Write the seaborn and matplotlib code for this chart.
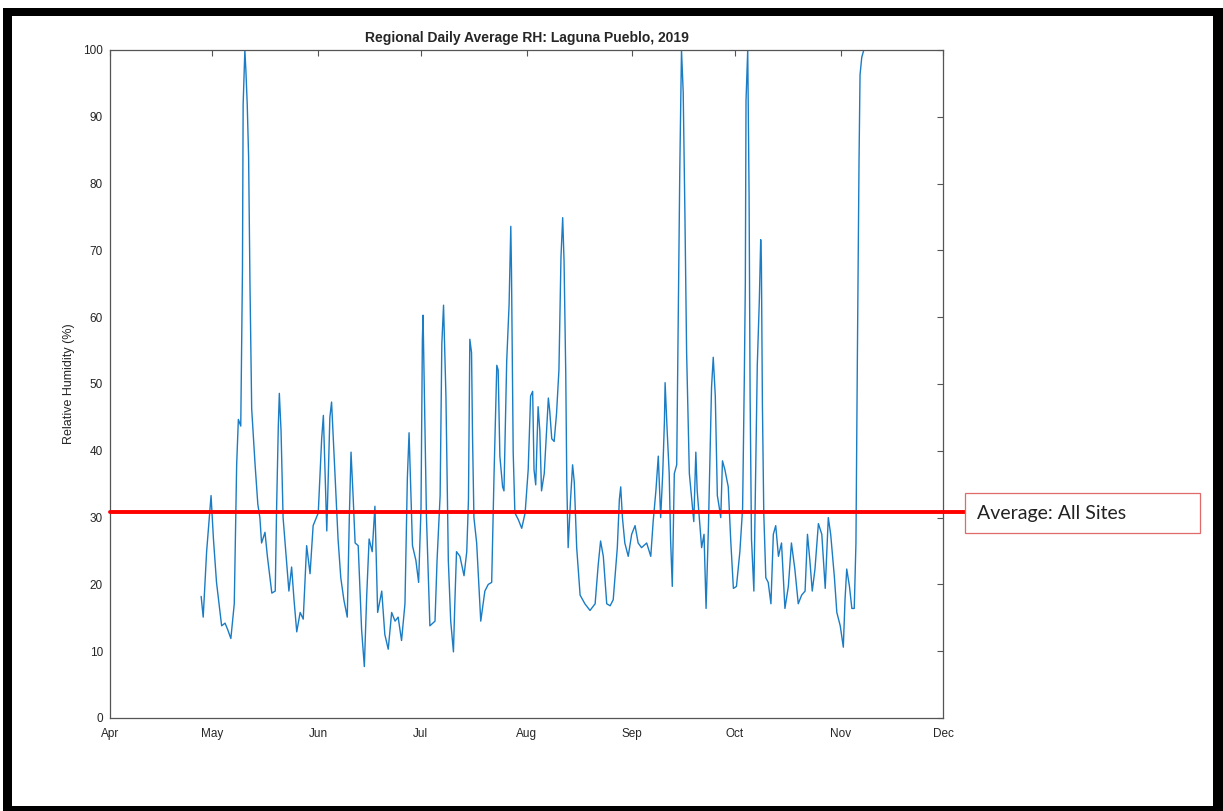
import numpy as np
import pandas as pd
import matplotlib
matplotlib.use("Agg")
import matplotlib.pyplot as plt
import matplotlib.dates as mdates
import matplotlib.transforms as mtransforms
from matplotlib.patches import Rectangle
import seaborn as sns

# ---------------- data ----------------
title_text = "Regional Daily Average RH: Laguna Pueblo, 2019"
y_label = "Relative Humidity (%)"
avg_label = "Average: All Sites"
avg_all_sites = 30.8
start_date = "2019-04-01"
month_ticks = ["2019-04-01", "2019-05-01", "2019-06-01", "2019-07-01",
               "2019-08-01", "2019-09-01", "2019-10-01", "2019-11-01", "2019-12-01"]
y_ticks = [0, 10, 20, 30, 40, 50, 60, 70, 80, 90, 100]

# days elapsed since 1 April 2019
days = [26.7, 27.3, 28.3, 29.6, 30.3, 31.2, 32.7, 33.7, 34.5, 35.4, 36.4, 37.1, 37.6, 38.3,
        38.8, 39.0, 39.5, 39.8, 40.2, 40.6, 41.0, 41.5, 42.5, 43.3, 43.9, 44.4, 45.4, 46.1,
        47.4, 48.4, 48.8, 49.3, 49.6, 50.1, 50.7, 51.7, 52.4, 53.2, 53.9, 54.7, 55.7, 56.6,
        57.6, 58.6, 59.5, 61.0, 62.0, 62.5, 63.5, 64.4, 64.9, 65.9, 66.8, 67.6, 68.5, 69.5,
        70.1, 70.6, 71.2, 71.8, 72.7, 73.7, 74.5, 75.2, 75.9, 76.8, 77.6, 78.4, 79.6, 80.5,
        81.5, 82.5, 83.5, 84.4, 85.4, 86.4, 87.1, 87.6, 88.0, 88.6, 89.6, 90.4, 91.1, 91.5,
        91.7, 92.1, 92.7, 93.7, 95.2, 95.8, 96.7, 97.2, 97.7, 98.4, 99.1, 99.8, 100.6, 101.0,
        101.5, 102.5, 103.7, 104.5, 105.0, 105.4, 105.9, 106.2, 106.6, 107.4, 108.6, 109.8,
        110.8, 111.8, 112.5, 113.3, 113.7, 114.2, 115.0, 115.4, 116.2, 116.9, 117.4, 117.6,
        118.1, 118.6, 119.6, 120.6, 121.6, 122.5, 123.2, 123.8, 124.2, 124.7, 125.4, 125.9,
        126.4, 127.2, 128.4, 128.8, 129.4, 130.1, 130.8, 131.5, 132.1, 132.6, 133.0, 133.5,
        133.8, 134.2, 134.9, 135.5, 136.0, 136.7, 137.7, 139.1, 140.6, 142.1, 143.0, 143.7,
        144.5, 145.5, 146.5, 147.4, 148.6, 149.2, 149.6, 150.1, 150.8, 151.8, 152.8, 153.8,
        154.7, 155.7, 157.2, 158.4, 159.1, 159.9, 160.6, 161.3, 161.9, 162.4, 162.6, 163.2,
        163.8, 164.2, 164.7, 165.3, 166.0, 166.4, 166.9, 167.4, 167.9, 168.4, 168.9, 169.7,
        170.4, 171.0, 171.6, 172.0, 172.6, 173.3, 174.0, 174.6, 175.3, 176.2, 176.7, 177.3,
        177.9, 178.5, 178.9, 179.4, 180.1, 181.1, 181.8, 182.6, 183.5, 184.5, 185.3, 185.8,
        186.1, 186.3, 186.8, 187.2, 187.5, 187.9, 188.6, 189.2, 189.6, 190.2, 190.6, 190.8,
        191.1, 191.5, 192.1, 192.8, 193.6, 194.3, 195.0, 195.8, 196.7, 197.7, 198.7, 199.6,
        200.6, 201.6, 202.6, 203.6, 204.3, 205.0, 205.7, 206.5, 207.5, 208.5, 209.5, 210.4,
        211.1, 212.2, 212.9, 213.9, 214.8, 215.3, 215.8, 216.6, 217.3, 218.0, 218.5, 218.9,
        219.4, 219.7, 220.2, 220.8]

rh = [18.2, 15.1, 24.9, 33.3, 26.8, 20.3, 13.8, 14.2, 13.2, 11.9, 17.1, 37.9, 44.7, 43.7,
      67.0, 91.8, 100.0, 97.0, 91.8, 84.0, 65.0, 46.3, 37.9, 32.0, 30.0, 26.2, 27.8, 24.2,
      18.7, 19.0, 31.4, 43.7, 48.6, 43.0, 30.0, 23.6, 19.0, 22.6, 17.7, 12.9, 15.8, 14.8,
      25.8, 21.6, 28.8, 30.7, 41.8, 45.3, 28.0, 45.0, 47.3, 36.6, 26.8, 21.0, 17.7, 15.1,
      30.0, 39.8, 33.3, 26.2, 25.8, 13.2, 7.7, 18.4, 26.8, 24.9, 31.7, 15.8, 19.0, 12.5,
      10.3, 15.8, 14.5, 15.1, 11.6, 17.1, 35.9, 42.7, 35.9, 25.8, 23.6, 20.3, 31.4, 56.7,
      60.3, 48.2, 30.0, 13.8, 14.5, 23.6, 33.3, 56.0, 61.8, 48.2, 23.6, 14.5, 9.9, 17.1,
      24.9, 24.2, 21.3, 24.9, 32.7, 56.7, 54.7, 41.8, 30.0, 26.2, 14.5, 19.0,
      20.0, 20.3, 36.6, 52.8, 52.1, 39.2, 34.6, 34.0, 53.4, 61.9, 73.6, 67.0,
      39.8, 30.7, 29.7, 28.4, 30.7, 37.2, 48.2, 48.9, 37.2, 34.9, 46.6, 43.0,
      34.0, 36.6, 47.9, 46.0, 41.8, 41.4, 45.6, 52.1, 69.0, 74.9, 68.4, 51.5,
      35.3, 25.5, 32.7, 37.9, 35.3, 25.5, 18.4, 17.1, 16.1, 17.1, 22.9, 26.5,
      24.2, 17.1, 16.8, 17.7, 25.5, 32.7, 34.6, 30.0, 26.2, 24.2, 27.5, 28.8,
      26.2, 25.5, 26.2, 24.2, 29.4, 34.0, 39.2, 30.0, 36.6, 44.4, 50.2, 43.0,
      36.6, 26.8, 19.7, 36.6, 37.9, 57.3, 82.0, 100.0, 93.7, 75.5, 54.7, 36.6,
      32.7, 29.4, 39.8, 34.0, 30.0, 25.5, 27.5, 16.4, 28.8, 49.5, 54.0, 48.2,
      33.3, 31.4, 30.0, 38.5, 37.2, 34.6, 26.8, 19.4, 19.7, 24.9, 31.4, 50.8,
      65.1, 92.4, 100.0, 78.1, 48.2, 26.8, 19.0, 39.2, 52.8, 62.5, 71.6, 68.4,
      47.0, 30.7, 21.0, 20.3, 17.1, 27.5, 28.8, 24.2, 26.2, 16.4, 19.7, 26.2,
      22.3, 17.1, 18.4, 19.0, 27.5, 23.6, 19.0, 22.3, 29.1, 27.5, 19.4, 30.0,
      27.5, 21.0, 15.8, 13.8, 10.6, 17.7, 22.3, 19.7, 16.4, 16.4, 26.2, 52.8,
      83.3, 96.3, 98.9, 100.0]

# ---------------- figure ----------------
sns.set_style("white")
plt.rcParams["font.family"] = ["Liberation Sans", "DejaVu Sans"]

W, H = 1223, 811
fig = plt.figure(figsize=(W / 100, H / 100), dpi=100)

# outer black frame (screenshot border)
fig.patches.append(Rectangle((3 / W, 0), (W - 3) / W, (H - 8) / H,
                             transform=fig.transFigure, facecolor="black",
                             edgecolor="none", zorder=-10))
fig.patches.append(Rectangle((12 / W, (H - 806) / H), (1213 - 12) / W, (806 - 16) / H,
                             transform=fig.transFigure, facecolor="white",
                             edgecolor="none", zorder=-9))

ax_l, ax_r, ax_t, ax_b = 110, 943, 50, 718
ax = fig.add_axes([ax_l / W, (H - ax_b) / H, (ax_r - ax_l) / W, (ax_b - ax_t) / H])
ax.set_facecolor("white")

df = pd.DataFrame({
    "date": pd.Timestamp(start_date) + pd.to_timedelta(days, unit="D"),
    "rh": rh,
})
sns.lineplot(data=df, x="date", y="rh", ax=ax, color="#1a7cc4", linewidth=1.0,
             estimator=None, sort=False)

ticks = pd.to_datetime(month_ticks)
ax.set_xlim(ticks[0], ticks[-1])
ax.set_ylim(0, 100)
ax.set_xticks(ticks)
ax.xaxis.set_major_formatter(mdates.DateFormatter("%b"))
ax.set_yticks(y_ticks)

ax.set_xlabel("")
ax.set_ylabel(y_label, fontsize=9, color="#262626", labelpad=6)
ax.set_title(title_text, fontsize=10, fontweight="bold", color="#262626", pad=6)

for s in ax.spines.values():
    s.set_visible(True)
    s.set_color("#555555")
    s.set_linewidth(0.9)
ax.tick_params(axis="both", which="major", direction="in", length=4, width=0.8,
               color="#555555", labelsize=8.5, labelcolor="#262626",
               top=True, right=True)
ax.tick_params(axis="x", pad=7)
ax.tick_params(axis="y", pad=5)
ax.grid(False)

# red "average" line extending beyond the axes to the annotation box
trans = mtransforms.blended_transform_factory(ax.transAxes, ax.transData)
box_left = 965
ax.plot([0, (box_left - ax_l) / (ax_r - ax_l)], [avg_all_sites, avg_all_sites],
        transform=trans, color="#ff0000", linewidth=2.8, clip_on=False, zorder=5)

# annotation box
bx0, bx1, by0, by1 = 965, 1200, 493, 533
fig.patches.append(Rectangle((bx0 / W, (H - by1) / H), (bx1 - bx0) / W, (by1 - by0) / H,
                             transform=fig.transFigure, facecolor="white",
                             edgecolor="#e06a6a", linewidth=0.9, zorder=5))
fig.text(977 / W, (H - 514) / H, avg_label, fontsize=14, color="#222222",
         va="center", ha="left", family=["Lato", "DejaVu Sans"], zorder=6)

fig.savefig("out.png", dpi=100, facecolor="white")
